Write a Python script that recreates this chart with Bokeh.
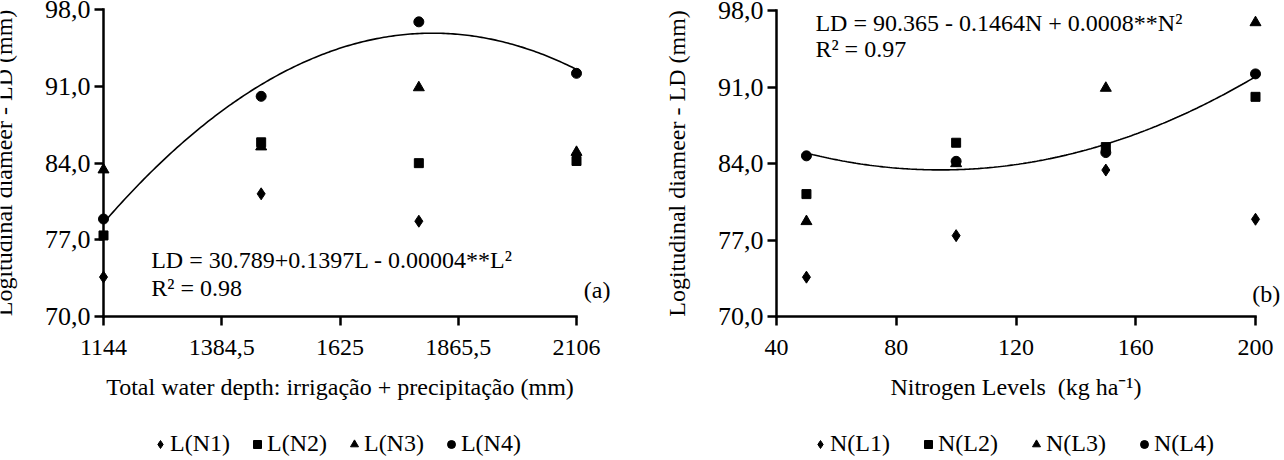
import numpy as np
from bokeh.plotting import figure
from bokeh.layouts import row
from bokeh.models import Range1d, LinearAxis, FixedTicker, Label, Legend, LegendItem
from bokeh.embed import file_html
from bokeh.resources import INLINE

# Longitudinal diameter LD (mm): one list per water depth level (L1..L4),
# each holding the values for the nitrogen rates N1..N4
ld_at_L1 = [73.6, 77.4, 83.4, 78.9]
ld_at_L2 = [81.2, 85.9, 85.5, 90.1]
ld_at_L3 = [78.7, 84.0, 90.9, 96.9]
ld_at_L4 = [84.7, 84.2, 85.0, 92.2]

water_depth = [1144, 1464.67, 1785.33, 2106]          # mm
nitrogen = [50, 100, 150, 200]                          # kg/ha

water_ticks = [1144, 1384.5, 1625, 1865.5, 2106]
water_tick_labels = ["1144", "1384,5", "1625", "1865,5", "2106"]
n_ticks = [40, 80, 120, 160, 200]
n_tick_labels = ["40", "80", "120", "160", "200"]
ld_ticks = [70, 77, 84, 91, 98]
ld_tick_labels = ["70,0", "77,0", "84,0", "91,0", "98,0"]

left_names = ["L(N1)", "L(N2)", "L(N3)", "L(N4)"]
right_names = ["N(L1)", "N(L2)", "N(L3)", "N(L4)"]

FONT = "Liberation Serif"
FS = "24px"
INK = "black"
HEIGHT = 460

rows_by_L = [ld_at_L1, ld_at_L2, ld_at_L3, ld_at_L4]
# panel (a): one series per nitrogen rate, across water depths
series_a = [[r[j] for r in rows_by_L] for j in range(4)]
# panel (b): one series per water depth, across nitrogen rates
series_b = rows_by_L

MARKERS = [
    dict(marker="diamond", size=12),
    dict(marker="square", size=9),
    dict(marker="triangle", size=11),
    dict(marker="circle", size=10),
]

AXIS_STYLE = dict(axis_line_width=2.5, axis_line_color=INK, axis_line_cap="square",
                  major_tick_line_width=2.5, major_tick_line_color=INK,
                  major_tick_out=9, major_tick_in=0,
                  minor_tick_out=0, minor_tick_in=0,
                  major_label_text_font=FONT, major_label_text_color=INK,
                  axis_label_text_font=FONT, axis_label_text_font_size=FS,
                  axis_label_text_font_style="normal", axis_label_text_color=INK)


def panel(width, axis_px, x_lo, x_hi, y_px, xticks, xlabels, xtitle,
          xs, series, names, legend_x, spacing):
    # the plotting frame fills the whole canvas; the axes sit at fixed
    # data locations inside it, so nothing drawn next to them is clipped
    a0, a1 = axis_px
    top_px, bottom_px = y_px
    kx = (x_hi - x_lo) / (a1 - a0)
    ky = (98 - 70) / (bottom_px - top_px)
    p = figure(width=width, height=HEIGHT,
               x_range=Range1d(x_lo - a0 * kx, x_hi + (width - a1) * kx),
               y_range=Range1d(70 - (HEIGHT - bottom_px) * ky, 98 + top_px * ky),
               min_border=0,
               x_axis_location=None, y_axis_location=None,
               toolbar_location=None, output_backend="svg",
               outline_line_color=None, background_fill_color="white",
               border_fill_color="white")
    p.grid.visible = False

    yax = LinearAxis(fixed_location=x_lo, bounds=(70, 98),
                     ticker=FixedTicker(ticks=ld_ticks),
                     major_label_overrides=dict(zip(ld_ticks, ld_tick_labels)),
                     major_label_text_font_size="26px",
                     axis_label="Logitudinal diameer - LD (mm)",
                     major_label_standoff=4, axis_label_standoff=25, **AXIS_STYLE)
    p.add_layout(yax, "left")

    xax = LinearAxis(fixed_location=70, bounds=(x_lo, x_hi),
                     ticker=FixedTicker(ticks=xticks),
                     major_label_overrides=dict(zip(xticks, xlabels)),
                     major_label_text_font_size=FS,
                     axis_label=xtitle,
                     major_label_standoff=14, axis_label_standoff=16, **AXIS_STYLE)
    p.add_layout(xax, "below")

    items = []
    for vals, name, m in zip(series, names, MARKERS):
        r = p.scatter(xs, vals, marker=m["marker"], size=m["size"],
                      fill_color=INK, line_color=INK)
        items.append(LegendItem(label=name, renderers=[r]))

    # quadratic trend of the fourth series
    coef = np.polyfit(xs, series[3], 2)
    xx = np.linspace(xs[0], xs[-1], 200)
    p.line(xx, np.polyval(coef, xx), line_color=INK, line_width=1.6)

    legend = Legend(items=items, orientation="horizontal",
                    location=(legend_x, 3),
                    label_text_font=FONT, label_text_font_size=FS,
                    label_text_color=INK,
                    glyph_width=20, glyph_height=20, label_standoff=0,
                    spacing=spacing, padding=0, margin=0,
                    border_line_color=None, background_fill_alpha=0)
    p.add_layout(legend)
    return p


def note(p, x, y, text, align="left"):
    p.add_layout(Label(x=x, y=y, text=text, text_font=FONT, text_font_size=FS,
                       text_color=INK, text_align=align,
                       text_baseline="alphabetic"))


pa = panel(640, (103, 576), 1144, 2106, (9.3, 316), water_ticks, water_tick_labels,
           "Total water depth: irrigação + precipitação (mm)",
           water_depth, series_a, left_names, legend_x=150, spacing=17)
note(pa, 1241, 75.13, "LD = 30.789+0.1397L - 0.00004**L²")
note(pa, 1241, 72.58, "R² = 0.98")
note(pa, 2175, 72.4, "(a)", align="right")

pb = panel(644, (136, 615), 40, 200, (10, 316), n_ticks, n_tick_labels,
           "Nitrogen Levels \u00a0(kg ha⁻¹)",
           nitrogen, series_b, right_names, legend_x=170, spacing=28)
note(pb, 53.0, 96.9, "LD = 90.365 - 0.1464N + 0.0008**N²")
note(pb, 53.0, 94.52, "R² = 0.97")
note(pb, 208.3, 72.1, "(b)", align="right")

layout = row(pa, pb, spacing=0)
open("out.html", "w").write(file_html(layout, INLINE))
